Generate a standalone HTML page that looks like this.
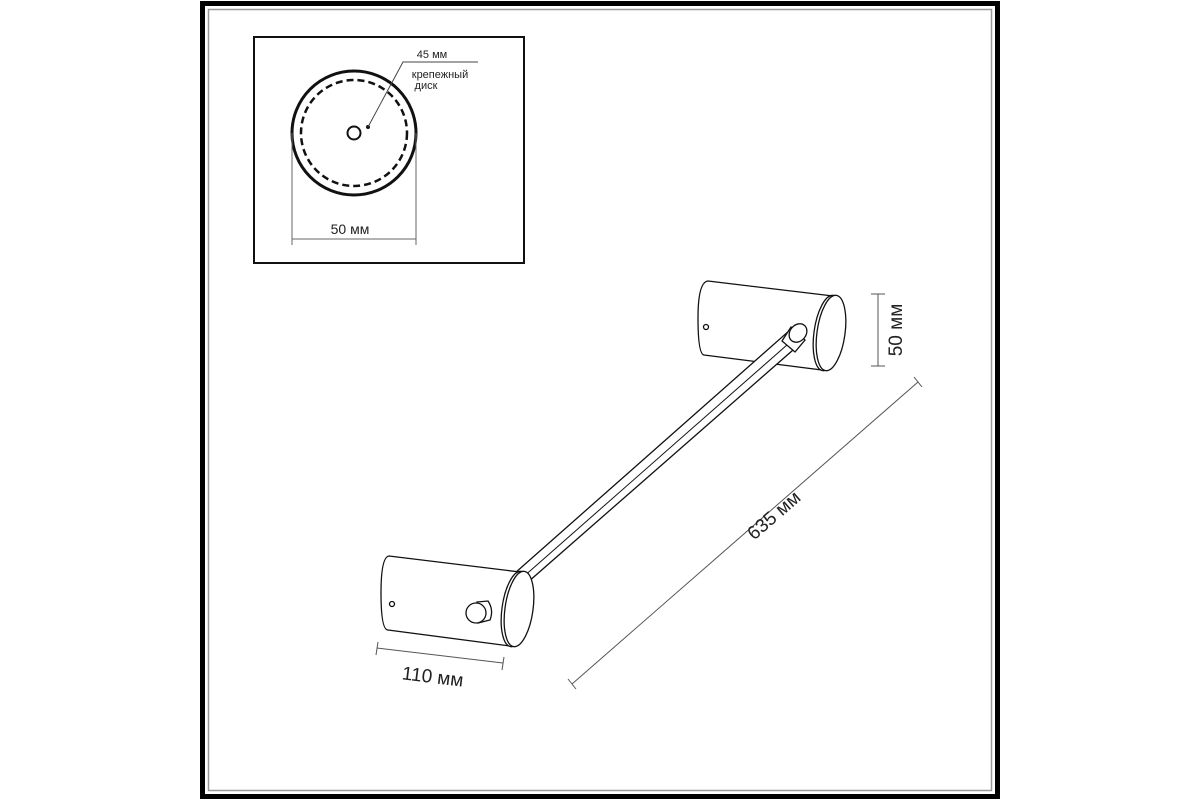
<!DOCTYPE html>
<html><head><meta charset="utf-8"><style>
html,body{margin:0;padding:0;background:#fff;}
svg{display:block;font-family:"Liberation Sans","DejaVu Sans",sans-serif;}
</style></head><body>
<svg width="1200" height="800" viewBox="0 0 1200 800" xmlns="http://www.w3.org/2000/svg">
<rect x="0" y="0" width="1200" height="800" fill="#fff"/>
<rect x="202.5" y="3.5" width="795" height="793" fill="none" stroke="#000" stroke-width="5"/>
<rect x="208.5" y="9.5" width="783" height="781" fill="none" stroke="#999" stroke-width="1.5"/>

<!-- inset -->
<rect x="254" y="37" width="270" height="226" fill="none" stroke="#111" stroke-width="2"/>
<circle cx="354" cy="133" r="62" fill="none" stroke="#111" stroke-width="3"/>
<circle cx="354" cy="133" r="53" fill="none" stroke="#111" stroke-width="2.5" stroke-dasharray="7,4"/>
<circle cx="354" cy="133" r="6.5" fill="none" stroke="#111" stroke-width="2"/>
<circle cx="368" cy="127" r="2" fill="#111"/>
<polyline points="368,127 403,62 478,62" fill="none" stroke="#444" stroke-width="1"/>
<text x="432" y="58" font-size="11" text-anchor="middle" fill="#222">45 мм</text>
<text x="440" y="78" font-size="11" text-anchor="middle" fill="#222">крепежный</text>
<text x="426" y="89" font-size="11" text-anchor="middle" fill="#222">диск</text>
<line x1="292" y1="133" x2="292" y2="245" stroke="#666" stroke-width="1"/>
<line x1="416" y1="133" x2="416" y2="245" stroke="#666" stroke-width="1"/>
<line x1="292" y1="239" x2="416" y2="239" stroke="#666" stroke-width="1"/>
<text x="350" y="234" font-size="14" text-anchor="middle" fill="#222">50 мм</text>

<g fill="#fff" stroke="#111" stroke-width="1.3">
<!-- right cylinder -->
<path d="M833,296 L708,281 Q698,282 698,318 Q698,354 704,355 L822,370 Z"/>
<ellipse cx="828" cy="333" rx="14" ry="38" transform="rotate(8 828 333)"/>
<ellipse cx="831" cy="333" rx="14" ry="38" transform="rotate(8 831 333)"/>
<circle cx="706" cy="327" r="2.5"/>
<!-- rod -->
<polygon points="515,573 790,330 801,343 528,582"/>
<line x1="522" y1="578" x2="796" y2="337" stroke-width="1"/>
<polygon points="782,341 791,327 805,340 795,352"/>
<ellipse cx="798" cy="333" rx="8" ry="10" transform="rotate(40 798 333)"/>
<!-- left cylinder -->
<path d="M520,572 L389,556 Q381,557 381,593 Q381,630 388,630 L510,646 Z"/>
<ellipse cx="516" cy="609" rx="14" ry="38" transform="rotate(8 516 609)"/>
<ellipse cx="519" cy="609" rx="14" ry="38" transform="rotate(8 519 609)"/>
<circle cx="392" cy="604" r="2.5"/>
<path d="M477,602 L488,601 Q494,610 490,620 L478,623 Z"/>
<circle cx="476" cy="613" r="10"/>
</g>

<!-- dimensions -->
<g stroke="#555" stroke-width="1" fill="none">
<line x1="377" y1="648" x2="503" y2="663"/>
<line x1="378" y1="642" x2="376" y2="655"/>
<line x1="504" y1="657" x2="502" y2="670"/>
<line x1="572" y1="684" x2="918" y2="382"/>
<line x1="568" y1="679" x2="576" y2="689"/>
<line x1="914" y1="377" x2="922" y2="387"/>
<line x1="878" y1="294" x2="878" y2="366"/>
<line x1="871" y1="294" x2="885" y2="294"/>
<line x1="871" y1="366" x2="885" y2="366"/>
</g>
<text x="432" y="683" font-size="19" text-anchor="middle" fill="#222" transform="rotate(7 432 683)">110 мм</text>
<text x="778" y="520" font-size="19" text-anchor="middle" fill="#222" transform="rotate(-41 778 520)">635 мм</text>
<text x="902" y="330" font-size="19" text-anchor="middle" fill="#222" transform="rotate(-90 902 330)">50 мм</text>
</svg>
</body></html>
